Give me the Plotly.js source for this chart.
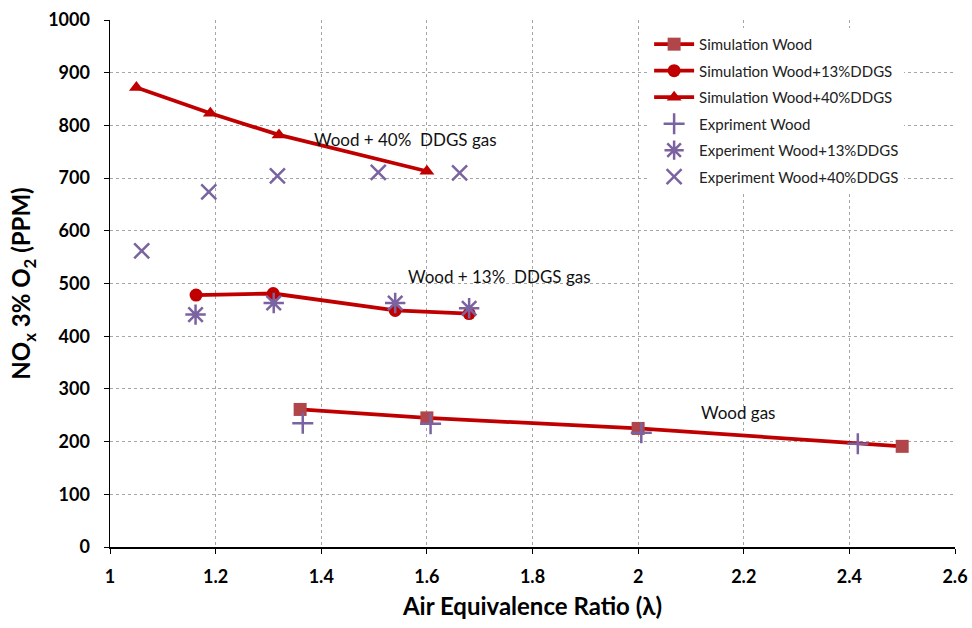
<!DOCTYPE html>
<html>
<head>
<meta charset="utf-8">
<script src="https://cdn.plot.ly/plotly-3.0.1.min.js"></script>
<style>
  html, body { margin: 0; padding: 0; background: #fff; }
  #chart { width: 972px; height: 628px; }
</style>
</head>
<body>
<div id="chart"></div>
<script>
// Simulation results (lines with markers)
const simWoodX = [1.36, 1.60, 2.00, 2.50];
const simWoodY = [261, 245, 225, 191];

const sim13X = [1.163, 1.309, 1.54, 1.68];
const sim13Y = [478, 481, 449, 443];

const sim40X = [1.05, 1.19, 1.32, 1.60];
const sim40Y = [872, 823, 782, 713];

// Experimental measurements (markers only)
const expWoodX = [1.365, 1.607, 2.006, 2.416];
const expWoodY = [235, 234, 217, 196];

const exp13X = [1.162, 1.31, 1.54, 1.68];
const exp13Y = [441, 463, 463, 453];

const exp40X = [1.06, 1.187, 1.317, 1.508, 1.662];
const exp40Y = [562, 674, 704, 711, 710];

const xTicks = [1, 1.2, 1.4, 1.6, 1.8, 2, 2.2, 2.4, 2.6];
const xTickText = ['1', '1.2', '1.4', '1.6', '1.8', '2', '2.2', '2.4', '2.6'];

const lineRed = '#C00000';
const purple = '#7B62A0';
const font = 'Lato, "Open Sans", "Liberation Sans", sans-serif';

const traces = [
  {
    x: simWoodX, y: simWoodY, name: 'Simulation Wood', mode: 'lines+markers', legendgroup: 'a',
    line: { color: lineRed, width: 3.8 },
    marker: { symbol: 'square', size: 13, color: '#B0464A' }
  },
  {
    x: sim13X, y: sim13Y, name: 'Simulation Wood+13%DDGS', mode: 'lines+markers', legendgroup: 'b',
    line: { color: lineRed, width: 3.8 },
    marker: { symbol: 'circle', size: 13, color: lineRed }
  },
  {
    x: sim40X, y: sim40Y, name: 'Simulation Wood+40%DDGS', mode: 'lines+markers', legendgroup: 'c',
    line: { color: lineRed, width: 3.8 },
    marker: { symbol: 'triangle-up', size: 13, color: lineRed }
  },
  {
    x: expWoodX, y: expWoodY, name: 'Expriment Wood', mode: 'markers', legendgroup: 'd',
    marker: { symbol: 'cross-thin-open', size: 15, color: purple, line: { color: purple, width: 2.5 } }
  },
  {
    x: exp13X, y: exp13Y, name: 'Experiment Wood+13%DDGS', mode: 'markers', legendgroup: 'e',
    marker: { symbol: 'asterisk-open', size: 17, color: purple, line: { color: purple, width: 2.5 } }
  },
  {
    x: exp40X, y: exp40Y, name: 'Experiment Wood+40%DDGS', mode: 'markers', legendgroup: 'f',
    marker: { symbol: 'x-thin-open', size: 15, color: purple, line: { color: purple, width: 2.5 } }
  }
];

const layout = {
  width: 972, height: 628,
  margin: { l: 110, r: 17, t: 20, b: 81 },
  paper_bgcolor: '#ffffff', plot_bgcolor: '#ffffff',
  font: { family: font, color: '#000' },
  showlegend: true,
  legend: {
    x: 0.638, y: 0.985, xanchor: 'left', yanchor: 'top',
    bgcolor: '#ffffff', borderwidth: 0,
    font: { family: font, size: 15, color: '#222' },
    tracegroupgap: 4, itemwidth: 40
  },
  xaxis: {
    range: [1, 2.6], tickvals: xTicks, ticktext: xTickText,
    showline: true, linecolor: '#000', linewidth: 1.5,
    ticks: 'outside', ticklen: 5, tickcolor: '#000', ticklabelstandoff: 8,
    showgrid: true, gridcolor: '#a6a6a6', griddash: 'dot', gridwidth: 1,
    zeroline: false,
    tickfont: { family: font, size: 18, color: '#000', weight: 'bold' },
    title: { text: 'Air Equivalence Ratio (λ)', font: { family: font, size: 24, color: '#000', weight: 'bold' }, standoff: 12 }
  },
  yaxis: {
    range: [0, 1000], dtick: 100,
    showline: true, linecolor: '#000', linewidth: 1.5,
    ticks: 'outside', ticklen: 5, tickcolor: '#000', ticklabelstandoff: 10,
    showgrid: true, gridcolor: '#a6a6a6', griddash: 'dot', gridwidth: 1,
    zeroline: false,
    tickfont: { family: font, size: 18, color: '#000', weight: 'bold' },
    title: { text: 'NO<sub>x</sub> 3% O<sub>2</sub> (PPM)', font: { family: font, size: 24, color: '#000', weight: 'bold' }, standoff: 10 }
  },
  annotations: [
    { x: 1.56, y: 774, text: 'Wood + 40%  DDGS gas', showarrow: false, font: { family: font, size: 17, color: '#111' } },
    { x: 1.737, y: 513, text: 'Wood + 13%  DDGS gas', showarrow: false, font: { family: font, size: 17, color: '#111' } },
    { x: 2.19, y: 255, text: 'Wood gas', showarrow: false, font: { family: font, size: 17, color: '#111' } }
  ]
};

Plotly.newPlot('chart', traces, layout, { displayModeBar: false, staticPlot: true });
</script>
</body>
</html>
